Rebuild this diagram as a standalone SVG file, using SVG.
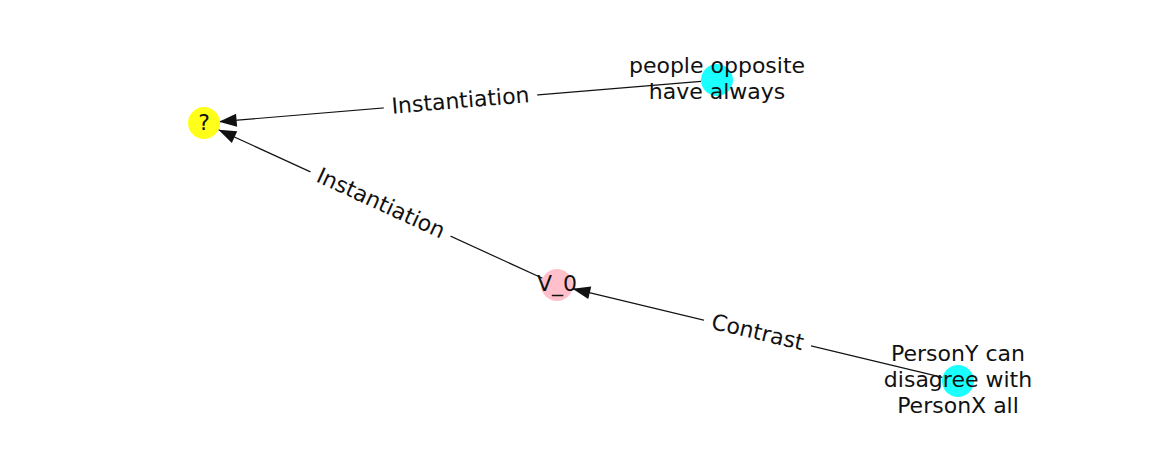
<svg xmlns="http://www.w3.org/2000/svg" width="1162" height="462" viewBox="0 0 1162 462">
<style>
text{font-family:"DejaVu Sans","Liberation Sans",sans-serif;font-size:22px;fill:#111;text-anchor:middle;dominant-baseline:central}
.edge{stroke:#111;stroke-width:1.2;fill:none;marker-end:url(#ah)}
.lbl{fill:#fff;stroke:none}
</style>
<defs>
<marker id="ah" markerUnits="userSpaceOnUse" markerWidth="20" markerHeight="20" viewBox="-16 -8 17 16" refX="0" refY="0" orient="auto">
<path d="M0,0 L-15,-5.5 L-15,5.5 Z" fill="#111"/>
</marker>
</defs>
<rect width="1162" height="462" fill="#fff"/>
<g id="connectors">
<line class="edge" x1="701" y1="81.3" x2="219" y2="121.7"/>
<line class="edge" x1="542.5" y1="278.3" x2="218.5" y2="129.7"/>
<line class="edge" x1="942.4" y1="377.3" x2="572.6" y2="288.7"/>
<g transform="translate(460.5,101.5) rotate(-4.79)">
<rect class="lbl" x="-77" y="-15" width="154" height="30"/>
<text y="-1">Instantiation</text>
</g>
<g transform="translate(380.5,204) rotate(24.65)">
<rect class="lbl" x="-77" y="-15" width="154" height="30"/>
<text y="-1">Instantiation</text>
</g>
<g transform="translate(757.5,333) rotate(13.46)">
<rect class="lbl" x="-55" y="-15" width="110" height="30"/>
<text y="-1">Contrast</text>
</g>
</g>
<g id="node-q">
<circle cx="204" cy="123" r="16" fill="#ffff1a"/>
<text x="204" y="122">?</text>
</g>
<g id="node-people">
<circle cx="717" cy="80" r="16" fill="#1affff"/>
<text x="717" y="65.5">people opposite</text>
<text x="717" y="91.5">have always</text>
</g>
<g id="node-v0">
<circle cx="557" cy="285" r="16" fill="#ffc0cb"/>
<text x="557" y="283.5">V_0</text>
</g>
<g id="node-persony">
<circle cx="958" cy="381" r="16" fill="#1affff"/>
<text x="958" y="353">PersonY can</text>
<text x="958" y="379">disagree with</text>
<text x="958" y="405">PersonX all</text>
</g>
</svg>
